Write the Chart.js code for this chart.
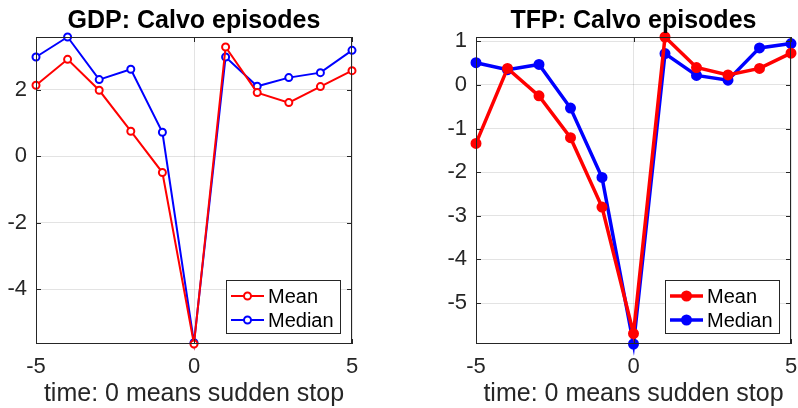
<!DOCTYPE html>
<html>
<head>
<meta charset="utf-8">
<script src="https://cdn.jsdelivr.net/npm/chart.js@4/dist/chart.umd.min.js"></script>
<style>
  body { margin: 0; background: #fff; overflow: hidden; }
  .panel { position: absolute; top: 0; }
</style>
</head>
<body>
<div class="panel" style="left:0"><canvas id="gdpChart" width="400" height="408"></canvas></div>
<div class="panel" style="left:400px"><canvas id="tfpChart" width="398" height="408"></canvas></div>
<script>
// time relative to the sudden stop
const steps = [-5, -4, -3, -2, -1, 0, 1, 2, 3, 4, 5];
const xTicks = [-5, 0, 5];

const gdpMean = [2.13, 2.91, 1.98, 0.75, -0.49, -5.64, 3.28, 1.91, 1.61, 2.09, 2.57];
const gdpMedian = [2.98, 3.58, 2.30, 2.61, 0.72, -5.60, 2.98, 2.10, 2.36, 2.51, 3.18];
const gdpTicks = [-4, -2, 0, 2];

const tfpMean = [-1.34, 0.38, -0.25, -1.21, -2.80, -5.70, 1.10, 0.40, 0.23, 0.38, 0.73];
const tfpMedian = [0.51, 0.35, 0.47, -0.53, -2.12, -5.94, 0.72, 0.22, 0.11, 0.85, 0.95];
const tfpTicks = [-5, -4, -3, -2, -1, 0, 1];

const FONT = 'Liberation Sans, Arial, Helvetica, sans-serif';
const AXIS = '#262626';

// box around the plot, inward ticks on all four sides, title and legend
const matlabLook = {
  id: 'matlabLook',
  afterDraw(chart, args, opts) {
    const { ctx, chartArea: a, scales } = chart;
    ctx.save();
    ctx.strokeStyle = AXIS;
    ctx.lineWidth = 1;
    ctx.strokeRect(a.left + 0.5, a.top + 0.5, a.right - a.left - 1, a.bottom - a.top - 1);
    const tl = 5;
    ctx.beginPath();
    scales.y.ticks.forEach(t => {
      const y = Math.round(scales.y.getPixelForValue(t.value)) + 0.5;
      ctx.moveTo(a.left, y); ctx.lineTo(a.left + tl, y);
      ctx.moveTo(a.right, y); ctx.lineTo(a.right - tl, y);
    });
    scales.x.ticks.forEach(t => {
      const x = Math.round(scales.x.getPixelForValue(t.value)) + 0.5;
      ctx.moveTo(x, a.bottom); ctx.lineTo(x, a.bottom - tl);
      ctx.moveTo(x, a.top); ctx.lineTo(x, a.top + tl);
    });
    ctx.stroke();

    // title
    ctx.fillStyle = '#000';
    ctx.font = 'bold 25px ' + FONT;
    ctx.textAlign = 'center';
    ctx.textBaseline = 'middle';
    ctx.fillText(opts.title, (a.left + a.right) / 2, 21);

    // legend in the lower right corner
    const bw = opts.legendWidth, bh = 53;
    const bx = a.right - 12 - bw, by = a.bottom - 11 - bh;
    ctx.fillStyle = '#fff';
    ctx.fillRect(bx, by, bw, bh);
    ctx.strokeStyle = AXIS;
    ctx.lineWidth = 1;
    ctx.strokeRect(Math.round(bx) + 0.5, Math.round(by) + 0.5, bw, bh);
    ctx.font = '20px ' + FONT;
    ctx.textAlign = 'left';
    chart.data.datasets.forEach((ds, i) => {
      const y = by + 16 + i * 24;
      ctx.strokeStyle = ds.borderColor;
      ctx.lineWidth = ds.borderWidth;
      ctx.beginPath();
      ctx.moveTo(bx + 5, y); ctx.lineTo(bx + 38, y);
      ctx.stroke();
      ctx.beginPath();
      ctx.arc(bx + 21.5, y, ds.pointRadius, 0, Math.PI * 2);
      ctx.fillStyle = ds.pointBackgroundColor;
      ctx.fill();
      ctx.lineWidth = ds.pointBorderWidth;
      ctx.stroke();
      ctx.fillStyle = '#000';
      ctx.fillText(ds.label, bx + 42, y + 1);
    });
    ctx.restore();
  }
};

function series(label, values, color, thick) {
  return {
    label,
    data: steps.map((x, i) => ({ x, y: values[i] })),
    borderColor: color,
    borderWidth: thick ? 3.5 : 2,
    pointRadius: thick ? 4 : 3.5,
    pointBorderWidth: thick ? 3 : 2,
    pointBorderColor: color,
    pointBackgroundColor: thick ? color : '#fff',
    tension: 0,
    clip: false
  };
}

function makeChart(id, title, mean, median, yMin, yMax, yTicks, yWidth, rightPad, thick, legendWidth) {
  new Chart(document.getElementById(id), {
    type: 'line',
    data: {
      datasets: [
        series('Mean', mean, '#ff0000', thick),
        series('Median', median, '#0000ff', thick)
      ]
    },
    options: {
      responsive: false,
      animation: false,
      layout: { padding: { top: 37, right: rightPad, left: 0, bottom: 0 } },
      plugins: {
        legend: { display: false },
        tooltip: { enabled: false },
        matlabLook: { title, legendWidth }
      },
      scales: {
        x: {
          type: 'linear',
          min: -5,
          max: 5,
          afterBuildTicks: s => { s.ticks = xTicks.map(v => ({ value: v })); },
          afterFit: s => { s.height = 64; s.paddingLeft = 0; s.paddingRight = 0; },
          border: { display: false },
          grid: { color: 'rgba(38,38,38,0.13)', drawTicks: false },
          ticks: { font: { family: FONT, size: 22 }, color: AXIS, padding: 10, maxRotation: 0 },
          title: {
            display: true,
            text: 'time: 0 means sudden stop',
            font: { family: FONT, size: 25, lineHeight: 1 },
            color: AXIS,
            padding: { top: 0, bottom: 1 }
          }
        },
        y: {
          type: 'linear',
          min: yMin,
          max: yMax,
          afterBuildTicks: s => { s.ticks = yTicks.map(v => ({ value: v })); },
          afterFit: s => { s.width = yWidth; s.paddingTop = 0; s.paddingBottom = 0; },
          border: { display: false },
          grid: { color: 'rgba(38,38,38,0.13)', drawTicks: false },
          ticks: { font: { family: FONT, size: 22 }, color: AXIS, padding: 9 }
        }
      }
    },
    plugins: [matlabLook]
  });
}

makeChart('gdpChart', 'GDP: Calvo episodes', gdpMean, gdpMedian, -5.64, 3.58, gdpTicks, 36, 48, false, 114);
makeChart('tfpChart', 'TFP: Calvo episodes', tfpMean, tfpMedian, -5.94, 1.10, tfpTicks, 76, 5, true, 114);
</script>
</body>
</html>
